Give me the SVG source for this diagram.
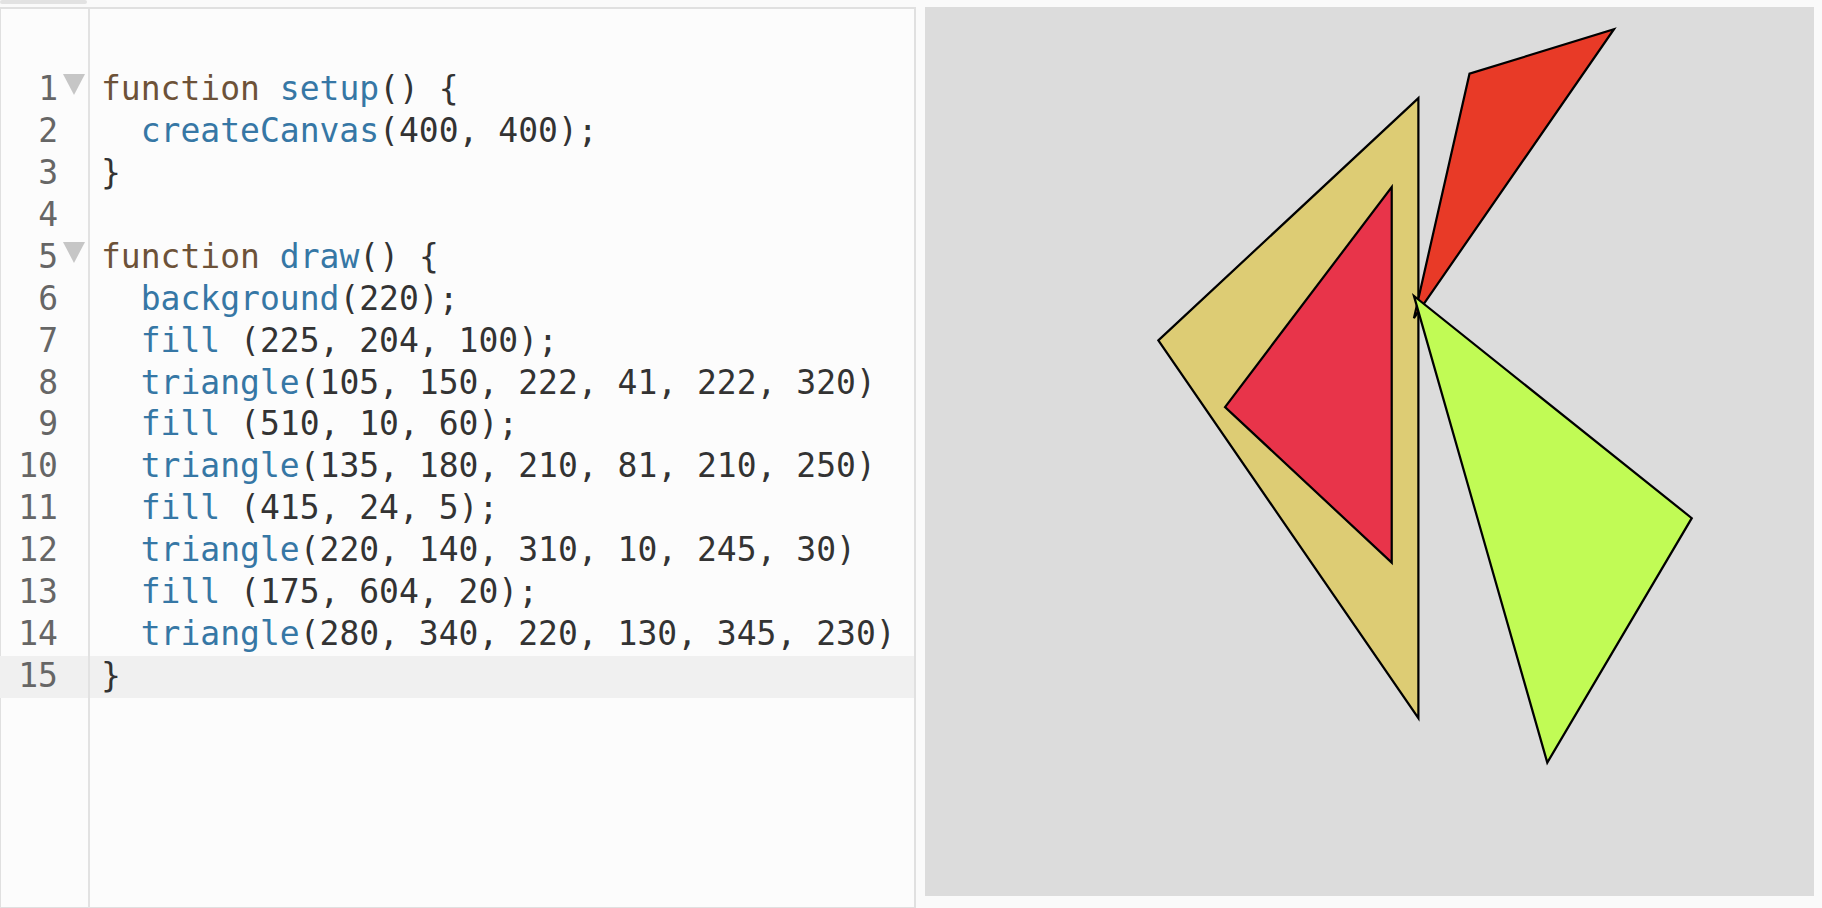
<svg xmlns="http://www.w3.org/2000/svg" width="1822" height="908" viewBox="0 0 1822 908">
<style>
.code{font-family:"DejaVu Sans Mono","Liberation Mono",monospace;font-size:33px;fill:#333333}
.ln{font-family:"DejaVu Sans Mono","Liberation Mono",monospace;font-size:33px;fill:#666666;text-anchor:end}
.kw{fill:#6d5238}
.fn{fill:#3677a5}
.tri{stroke:#000;stroke-width:1;stroke-linejoin:miter}
</style>
<rect x="0" y="0" width="1822" height="908" fill="#fafafa"/>
<rect x="0" y="0" width="87" height="4" rx="2" fill="#e2e2e2"/>
<g id="editor">
<rect x="0" y="8" width="915" height="900" fill="#fcfcfc" stroke="#e0e0e0" stroke-width="2"/>
<rect x="0" y="656" width="914" height="42" fill="#f0f0f0"/>
<line x1="89" y1="9" x2="89" y2="908" stroke="#e2e2e2" stroke-width="2"/>
<polygon points="63,74 85,74 74,95" fill="#c6c6c6"/>
<polygon points="63,242 85,242 74,263" fill="#c6c6c6"/>
<g id="line-numbers">
<text class="ln" x="58" y="100">1</text>
<text class="ln" x="58" y="142">2</text>
<text class="ln" x="58" y="184">3</text>
<text class="ln" x="58" y="226">4</text>
<text class="ln" x="58" y="268">5</text>
<text class="ln" x="58" y="310">6</text>
<text class="ln" x="58" y="352">7</text>
<text class="ln" x="58" y="394">8</text>
<text class="ln" x="58" y="435">9</text>
<text class="ln" x="58" y="477">10</text>
<text class="ln" x="58" y="519">11</text>
<text class="ln" x="58" y="561">12</text>
<text class="ln" x="58" y="603">13</text>
<text class="ln" x="58" y="645">14</text>
<text class="ln" x="58" y="687">15</text>
</g>
<g id="code">
<text class="code" x="101" y="100"><tspan class="kw">function</tspan> <tspan class="fn">setup</tspan>() {</text>
<text class="code" x="140.7" y="142"><tspan class="fn">createCanvas</tspan>(400, 400);</text>
<text class="code" x="101" y="184">}</text>
<text class="code" x="101" y="268"><tspan class="kw">function</tspan> <tspan class="fn">draw</tspan>() {</text>
<text class="code" x="140.7" y="310"><tspan class="fn">background</tspan>(220);</text>
<text class="code" x="140.7" y="352"><tspan class="fn">fill</tspan> (225, 204, 100);</text>
<text class="code" x="140.7" y="394"><tspan class="fn">triangle</tspan>(105, 150, 222, 41, 222, 320)</text>
<text class="code" x="140.7" y="435"><tspan class="fn">fill</tspan> (510, 10, 60);</text>
<text class="code" x="140.7" y="477"><tspan class="fn">triangle</tspan>(135, 180, 210, 81, 210, 250)</text>
<text class="code" x="140.7" y="519"><tspan class="fn">fill</tspan> (415, 24, 5);</text>
<text class="code" x="140.7" y="561"><tspan class="fn">triangle</tspan>(220, 140, 310, 10, 245, 30)</text>
<text class="code" x="140.7" y="603"><tspan class="fn">fill</tspan> (175, 604, 20);</text>
<text class="code" x="140.7" y="645"><tspan class="fn">triangle</tspan>(280, 340, 220, 130, 345, 230)</text>
<text class="code" x="101" y="687">}</text>
</g>
</g>
<g id="canvas" transform="translate(925,7) scale(2.2225)">
<rect x="0" y="0" width="400" height="400" fill="#dcdcdc"/>
<polygon id="tri-yellow" class="tri" points="105,150 222,41 222,320" fill="#ddcc74"/>
<polygon id="tri-red" class="tri" points="135,180 210,81 210,250" fill="#e8344a"/>
<polygon id="tri-orange" class="tri" points="220,140 310,10 245,30" fill="#e83a27"/>
<polygon id="tri-lime" class="tri" points="280,340 220,130 345,230" fill="#c1fb55"/>
</g>
</svg>
